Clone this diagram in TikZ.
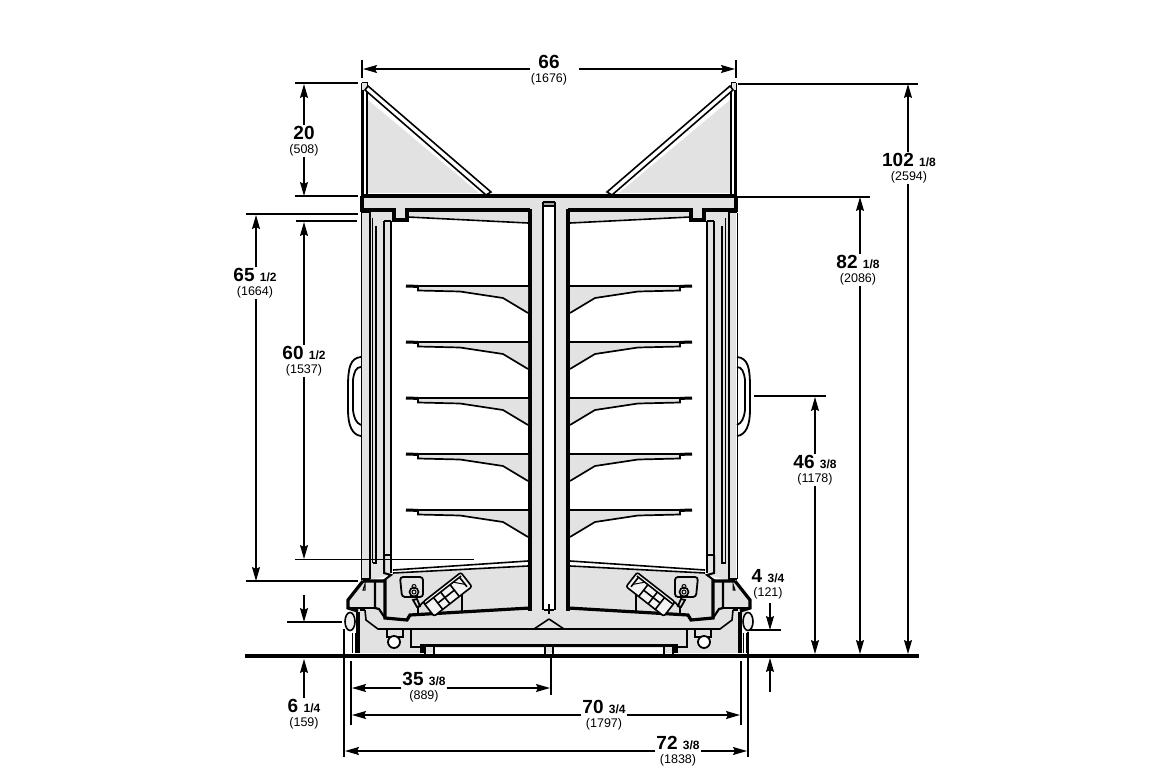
\documentclass[tikz,border=0pt]{standalone}
\usepackage{fontspec}
\setmainfont{Liberation Sans}
\usetikzlibrary{arrows.meta}
\definecolor{casegray}{HTML}{E2E2E2}
\tikzset{
  dimline/.style={line width=1.2pt,-{Stealth[length=14pt,width=8pt,inset=2pt]}},
  extline/.style={line width=1.2pt},
  dimlab/.style={align=center,inner sep=1pt,outer sep=0pt,font=\fontsize{12.5}{14}\selectfont},
  thin line/.style={line width=1pt},
  mid line/.style={line width=1.6pt},
  heavy line/.style={line width=3.2pt}
}
\newcommand{\dimtext}[3]{{\fontsize{19}{14}\selectfont\bfseries #1 {\fontsize{12}{14}\selectfont #2}}\\(#3)}
\newcommand{\shelfat}[1]{%
  \fill[casegray] (418,#1+4) -- (460,#1+5.5) -- (503,#1+12) -- (528,#1+27) -- (528,#1) -- (418,#1) -- cycle;
  \draw[line width=1.7pt] (418,#1+1) -- (418,#1+4.5) -- (460,#1+5.5) -- (503,#1+12) -- (528,#1+27);
  \draw[line width=2pt] (406,#1) -- (530,#1);
  \draw[line width=3pt] (406,#1) -- (418,#1+0.4);
}
\newcommand{\halfcase}{%
  % grey areas
  \fill[casegray] (368,100) -- (479,193) -- (368,193) -- cycle;
  \fill[casegray] (362,196) -- (549,196) -- (549,610) -- (530,610) -- (530,210) -- (407,210) -- (405,218) -- (396,218) -- (394,210) -- (362,210) -- cycle;
  \fill[casegray] (408,212) -- (528,212) -- (528,222) -- (408,216) -- cycle;
  \fill[casegray] (362,212) rectangle (369,580);
  \fill[casegray] (370,212) -- (393,212) -- (393,220) -- (391,221) -- (391,575) -- (370,580) -- cycle;
  \fill[casegray] (363,581) -- (383,581) -- (393,573) -- (528,567) -- (549,566) -- (549,653) -- (360,653) -- (360,620) -- (348,608) -- (348,600) -- cycle;
  \fill[white] (543,202) rectangle (549,610);
  % top wing
  \draw[line width=2.4pt] (362.5,196) -- (362.5,83);
  \draw[line width=1.4pt] (367,86) -- (367,196);
  \fill[casegray] (362,83) rectangle (367,90);
  \draw[thin line] (362,83) -- (367,83) -- (367,90);
  \draw[mid line,fill=white] (365,90) -- (368,86) -- (491,192) -- (486,195) -- cycle;
  % header
  \draw[heavy line] (362,196) -- (549,196);
  \draw[heavy line] (362,196) -- (362,210) -- (394,210) -- (394,220) -- (407,220) -- (407,210) -- (530,210);
  \draw[mid line] (408,217) -- (528,223);
  % column
  \draw[heavy line] (530,209) -- (530,611);
  \fill[gray!70] (543,202) rectangle (549,206);
  \draw[mid line] (543,202) -- (549,202);
  \draw[mid line] (543,206) -- (549,206);
  \draw[mid line] (543,202) -- (543,610);
  % door strips
  \draw[thin line] (361,213) -- (361,579);
  \draw[thin line] (361,213) -- (369,213);
  \draw[line width=2pt] (369.5,212) -- (369.5,579);
  \draw[line width=1.8pt] (372.5,218) -- (372.5,563);
  \draw[line width=1.8pt] (375.8,226) -- (375.8,563) -- (372.5,563);
  \draw[line width=2pt] (384,221) -- (384,555);
  \draw[line width=2.6pt] (391,221) -- (391,573);
  \draw[line width=2pt] (384,221) -- (391,221);
  \draw[mid line] (384,555) -- (391,555);
  \draw[mid line] (361,579) -- (370,579);
  \draw[line width=2pt] (384,555) -- (384,573) -- (391,575) -- (383,581);
  % handle
  \draw[line width=1.8pt] (361,357) .. controls (350,358) and (348,368) .. (348,387) -- (348,410) .. controls (348,425) and (352,435) .. (361,436);
  \draw[line width=1.8pt] (361,367) .. controls (356,367) and (354,372) .. (353,380) -- (353,410) .. controls (354,418) and (356,423) .. (361,425);
  % shelves
  \foreach \shelfy in {286,342,398,454,510} {\shelfat{\shelfy}}
  % base
  \draw[mid line] (393,570) -- (528,561);
  \draw[mid line] (393,573) -- (528,566);
  \draw[heavy line] (363,581) -- (348,600) -- (348,608) -- (358,611);
  \draw[heavy line] (363,581) -- (385,581) -- (385,618) -- (407,620) -- (410,615) -- (530,608);
  \draw[line width=2.2pt] (375,581) -- (375,608) -- (379,609) -- (385,618);
  \draw[line width=2.2pt] (349,608) -- (375,608);
  \draw[thin line] (363,590) -- (365,584) -- (365,590) -- cycle;
  \draw[heavy line] (358,612) -- (358,653);
  \draw[thin line] (352,633) -- (352,653);
  \draw[thin line] (355,633) -- (355,653);
  \draw[mid line] (365,610) -- (366,620) -- (378,629) -- (549,629);
  \draw[mid line] (360,610) -- (365,610);
  \draw[mid line] (534,629) -- (549,619);
  \draw[mid line,fill=casegray!60] (350,621.5) ellipse (5 and 9);
  % castor
  \draw[mid line] (387,629) -- (387,637) -- (403,637) -- (403,629);
  \draw[line width=1.8pt,fill=white] (394,642) circle (6);
  % skid
  \draw[mid line] (411,629) -- (411,647) -- (422,647);
  \fill[white] (434,647.5) rectangle (545,654);
  \draw[heavy line] (422,653) -- (422,645.5) -- (549,645.5);
  \draw[mid line] (425,647) -- (425,654);
  \draw[mid line] (434,647) -- (434,654);
  \draw[mid line] (545,647) -- (545,654);
  % control box
  \draw[line width=1.8pt,rounded corners=3pt] (400,577) -- (423,577) -- (423,597) -- (402,597) -- cycle;
  \draw[mid line,fill=casegray] (414,592) circle (4.5);
  \draw[thin line] (414,592) circle (2);
  \draw[thin line] (414,586.5) circle (2);
  \draw[line width=1.8pt] (413,600) -- (417,607) -- (420,606) -- (417,599) -- cycle;
  \draw[mid line] (419,607) -- (423,602);
  \draw[mid line] (418,607) -- (418,615);
  \draw[mid line] (462,575) -- (462,611);
  \begin{scope}[shift={(423,602)},rotate=38]
    \draw[mid line,rounded corners=2pt,fill=casegray!40] (0,0) rectangle (48,18);
    \draw[mid line] (0,3) -- (46,3);
    \draw[mid line] (44,3) -- (44,15);
    \draw[mid line] (11,3) -- (11,18);
    \draw[mid line] (20,3) -- (20,18);
    \draw[mid line] (11,10) -- (32,10);
    \draw[mid line] (32,3) -- (32,18);
    \draw[thin line] (36,3) -- (44,12);
  \end{scope}
}
\begin{document}
\begin{tikzpicture}[x=1pt,y=-1pt]
  \useasboundingbox (0,0) rectangle (1168,778);
  \fill[white] (0,0) rectangle (1168,778);
  \halfcase
  \begin{scope}[xshift=1098pt,xscale=-1]
    \halfcase
  \end{scope}
  % centre
  \draw[line width=2pt] (549,604) -- (549,614);
  \draw[line width=2pt] (544,610) -- (554,610);
  \draw[line width=3.8pt] (245,655.7) -- (919,655.7);

  % top width
  \draw[extline] (362,60) -- (362,78);
  \draw[extline] (736,60) -- (736,78);
  \node[dimlab] (width) at (549,70) {\dimtext{66}{}{1676}};
  \coordinate (widthl) at (363,69);
  \coordinate (widthr) at (735,69);
  \draw[dimline] (width.west |- widthl) -- (widthl);
  \draw[dimline] ([xshift=11pt]width.east |- widthr) -- (widthr);
  % wing
  \draw[extline] (295,83) -- (358,83);
  \draw[extline] (295,196) -- (358,196);
  \node[dimlab] (wing) at (304,141) {\dimtext{20}{}{508}};
  \coordinate (wingt) at (304,84);
  \coordinate (wingb) at (304,196);
  \draw[dimline] (wing) -- (wingt);
  \draw[dimline] (wing) -- (wingb);
  % overall height
  \draw[extline] (738,84) -- (918,84);
  \node[dimlab] (overall) at (909,168) {\dimtext{102}{1/8}{2594}};
  \coordinate (overallt) at (908,84);
  \coordinate (overallb) at (908,654);
  \draw[dimline] (overall.north -| overallt) -- (overallt);
  \draw[dimline] (overall.south -| overallb) -- (overallb);
  % header height
  \draw[extline] (738,197) -- (870,197);
  \node[dimlab] (header) at (858,270) {\dimtext{82}{1/8}{2086}};
  \coordinate (headert) at (860,197);
  \coordinate (headerb) at (860,654);
  \draw[dimline] (header.north -| headert) -- (headert);
  \draw[dimline] (header.south -| headerb) -- (headerb);
  % door height
  \draw[extline] (246,214) -- (358,214);
  \draw[extline] (246,581) -- (358,581);
  \node[dimlab] (door) at (255,283) {\dimtext{65}{1/2}{1664}};
  \coordinate (doort) at (256,215);
  \coordinate (doorb) at (256,581);
  \draw[dimline] (door.north -| doort) -- (doort);
  \draw[dimline] (door.south -| doorb) -- (doorb);
  % opening height
  \draw[extline] (296,221) -- (357,221);
  \draw[extline] (295,559.5) -- (474,559.5);
  \node[dimlab] (opening) at (304,361) {\dimtext{60}{1/2}{1537}};
  \coordinate (openingt) at (304,222);
  \coordinate (openingb) at (304,559);
  \draw[dimline] (opening) -- (openingt);
  \draw[dimline] (opening) -- (openingb);
  % handle height
  \draw[extline] (754,396) -- (826,396);
  \node[dimlab] (handle) at (815,470) {\dimtext{46}{3/8}{1178}};
  \coordinate (handlet) at (815,397);
  \coordinate (handleb) at (815,654);
  \draw[dimline] (handle) -- (handlet);
  \draw[dimline] (handle) -- (handleb);
  % bumper, right
  \draw[extline] (750,630) -- (781,630);
  \node[dimlab] (bumperr) at (768,584) {\dimtext{4}{3/4}{121}};
  \coordinate (bumperrs) at (770,603);
  \coordinate (bumperrt) at (770,630);
  \coordinate (bumperrb) at (770,658);
  \coordinate (bumperru) at (770,692);
  \draw[dimline] (bumperrs) -- (bumperrt);
  \draw[dimline] (bumperru) -- (bumperrb);
  % bumper, left
  \draw[extline] (287,622) -- (342,622);
  \node[dimlab] (bumperl) at (304,714) {\dimtext{6}{1/4}{159}};
  \coordinate (bumperls) at (304,595);
  \coordinate (bumperlt) at (304,622);
  \coordinate (bumperlb) at (304,659);
  \draw[dimline] (bumperls) -- (bumperlt);
  \draw[dimline] (bumperl) -- (bumperlb);
  % widths
  \draw[extline] (551,658) -- (551,695);
  \draw[extline] (351,661) -- (351,725);
  \draw[extline] (741,661) -- (741,725);
  \draw[extline] (344,629) -- (344,757);
  \draw[extline] (748,632) -- (748,757);
  \node[dimlab] (half) at (424,687) {\dimtext{35}{3/8}{889}};
  \coordinate (halfl) at (352,688);
  \coordinate (halfr) at (550,688);
  \draw[dimline] (half.west |- halfl) -- (halfl);
  \draw[dimline] (half.east |- halfr) -- (halfr);
  \node[dimlab] (inner) at (604,715) {\dimtext{70}{3/4}{1797}};
  \coordinate (innerl) at (352,715);
  \coordinate (innerr) at (740,715);
  \draw[dimline] (inner) -- (innerl);
  \draw[dimline] (inner) -- (innerr);
  \node[dimlab] (outer) at (678,751) {\dimtext{72}{3/8}{1838}};
  \coordinate (outerl) at (345,751);
  \coordinate (outerr) at (747,751);
  \draw[dimline] (outer) -- (outerl);
  \draw[dimline] (outer) -- (outerr);
\end{tikzpicture}
\end{document}
